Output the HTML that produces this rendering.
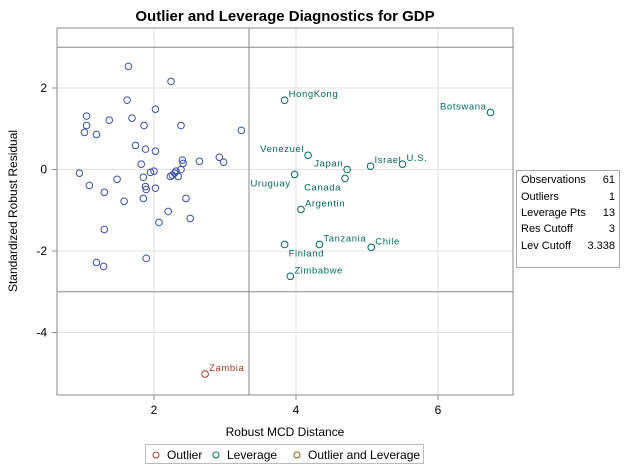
<!DOCTYPE html>
<html><head><meta charset="utf-8"><style>
body{margin:0;background:#fff;font-family:"Liberation Sans",sans-serif;}
svg{display:block}
</style></head><body>
<svg id="chart" width="631" height="469" font-family="Liberation Sans, sans-serif">
<text x="285" y="21" text-anchor="middle" font-size="15" font-weight="bold">Outlier and Leverage Diagnostics for GDP</text>
<g id="grid"></g>
<g id="marks"></g>
<rect x="57" y="28" width="456" height="367" fill="none" stroke="#888"/>
<g id="axes"></g>
<text x="285" y="436" text-anchor="middle" font-size="12">Robust MCD Distance</text>
<text transform="translate(17,211) rotate(-90)" text-anchor="middle" font-size="12">Standardized Robust Residual</text>
<g>
<rect x="516.5" y="170.5" width="103" height="97" fill="#fff" stroke="#aaa"/>
<g font-size="11">
<text x="521" y="183">Observations</text><text x="615" y="183" text-anchor="end">61</text>
<text x="521" y="200">Outliers</text><text x="615" y="200" text-anchor="end">1</text>
<text x="521" y="216">Leverage Pts</text><text x="615" y="216" text-anchor="end">13</text>
<text x="521" y="232">Res Cutoff</text><text x="615" y="232" text-anchor="end">3</text>
<text x="521" y="249">Lev Cutoff</text><text x="615" y="249" text-anchor="end">3.338</text>
</g></g>
<g>
<rect x="145.5" y="444.5" width="278" height="19" fill="#fff" stroke="#bbb"/>
<circle cx="156" cy="455" r="3" fill="none" stroke="#A23A2A"/>
<text x="167" y="459" font-size="12">Outlier</text>
<circle cx="216" cy="455" r="3" fill="none" stroke="#00695C"/>
<text x="227" y="459" font-size="12">Leverage</text>
<circle cx="297" cy="455" r="3" fill="none" stroke="#8B5A1A"/>
<text x="308" y="459" font-size="12">Outlier and Leverage</text>
</g>
</svg>
<script>
const regX=[1.64,2.24,1.62,2.02,1.05,1.37,1.69,1.05,1.86,2.38,1.02,1.19,3.23,1.74,1.88,2.02,2.40,2.41,2.64,2.92,2.98,1.82,2.38,2.31,0.95,1.95,2.00,2.29,2.23,2.26,2.34,1.85,1.48,1.09,1.88,1.89,2.02,1.30,2.45,1.85,1.58,2.20,2.51,2.07,1.30,1.89,1.19,1.29];
const regY=[2.53,2.16,1.70,1.48,1.31,1.21,1.26,1.08,1.08,1.08,0.91,0.86,0.96,0.59,0.50,0.45,0.23,0.15,0.20,0.30,0.18,0.13,0.00,-0.04,-0.09,-0.07,-0.04,-0.09,-0.17,-0.14,-0.17,-0.19,-0.24,-0.39,-0.42,-0.49,-0.46,-0.56,-0.71,-0.71,-0.78,-1.03,-1.20,-1.30,-1.47,-2.18,-2.28,-2.38];
const levNames=["HongKong","Botswana","Venezuel","Japan","Israel","U.S.","Uruguay","Canada","Argentin","Finland","Tanzania","Chile","Zimbabwe"];
const levX=[3.84,6.74,4.17,4.72,5.05,5.50,3.98,4.69,4.07,3.84,4.33,5.06,3.92];
const levY=[1.70,1.40,0.35,0.00,0.08,0.13,-0.12,-0.22,-0.98,-1.84,-1.84,-1.91,-2.62];
const levPos=["ur","ul","ul","ul","ur","ur","ll","ll","ur","lr","ur","ur","ur"];
const outNames=["Zambia"];
const outX=[2.72];
const outY=[-5.02];
const xTicks=[2,4,6];
const yTicks=[2,0,-2,-4];
const resCutoff=3, levCutoff=3.338;

const sx=v=>12+v*71;
const sy=v=>169.5-v*40.75;
const NS="http://www.w3.org/2000/svg";
function mk(tag,parent,attrs){const e=document.createElementNS(NS,tag);for(const k in attrs)e.setAttribute(k,attrs[k]);parent.appendChild(e);return e;}
const grid=document.getElementById('grid'),marks=document.getElementById('marks'),axes=document.getElementById('axes');
xTicks.forEach(t=>{
  const l=mk('line',grid,{x1:sx(t),x2:sx(t),y1:28,y2:395,stroke:'#e2e2e2'});
  
  
  const tk=mk('line',axes,{x1:sx(t),x2:sx(t),y1:395,y2:400,stroke:'#888'});
  
  
  const tx=mk('text',axes,{x:sx(t),y:414,'text-anchor':'middle','font-size':12});
  tx.textContent=t;
  
  
});
yTicks.forEach(t=>{
  const l=mk('line',grid,{x1:57,x2:513,y1:sy(t),y2:sy(t),stroke:'#e2e2e2'});
  
  
  const tk=mk('line',axes,{x1:52,x2:57,y1:sy(t),y2:sy(t),stroke:'#888'});
  
  
  const tx=mk('text',axes,{x:47,y:sy(t)+4,'text-anchor':'end','font-size':12});
  tx.textContent=t;
  
  
});
[resCutoff,-resCutoff].forEach(c=>{
  const l=mk('line',grid,{x1:57,x2:513,y1:sy(c),y2:sy(c),stroke:'#888'});
  
  
});
const vl=mk('line',grid,{x1:sx(levCutoff),x2:sx(levCutoff),y1:28,y2:395,stroke:'#888'});



regX.forEach((x,i)=>{
  const c=mk('circle',marks,{cx:sx(x),cy:sy(regY[i]),r:3.3,fill:'none',stroke:'#3A4FA8'});
  
  
});
function labelled(xs,ys,names,pos,color,nm){
  xs.forEach((x,i)=>{
    const cx=sx(x),cy=sy(ys[i]);
    const c=mk('circle',marks,{cx:cx,cy:cy,r:3.3,fill:'none',stroke:color});
    
    
    const p=pos[i];
    const right=p[1]==='r', up=p[0]==='u';
    const t=mk('text',marks,{x:right?cx+4:cx-4,y:up?cy-3:cy+12,'text-anchor':right?'start':'end','font-size':9.5,fill:color,'letter-spacing':'0.6'});
    t.textContent=names[i];
    
    
  });
}
labelled(levX,levY,levNames,levPos,'#00695C','leverage');
labelled(outX,outY,outNames,['ur'],'#A23A2A','outlier');
</script>
</body></html>
